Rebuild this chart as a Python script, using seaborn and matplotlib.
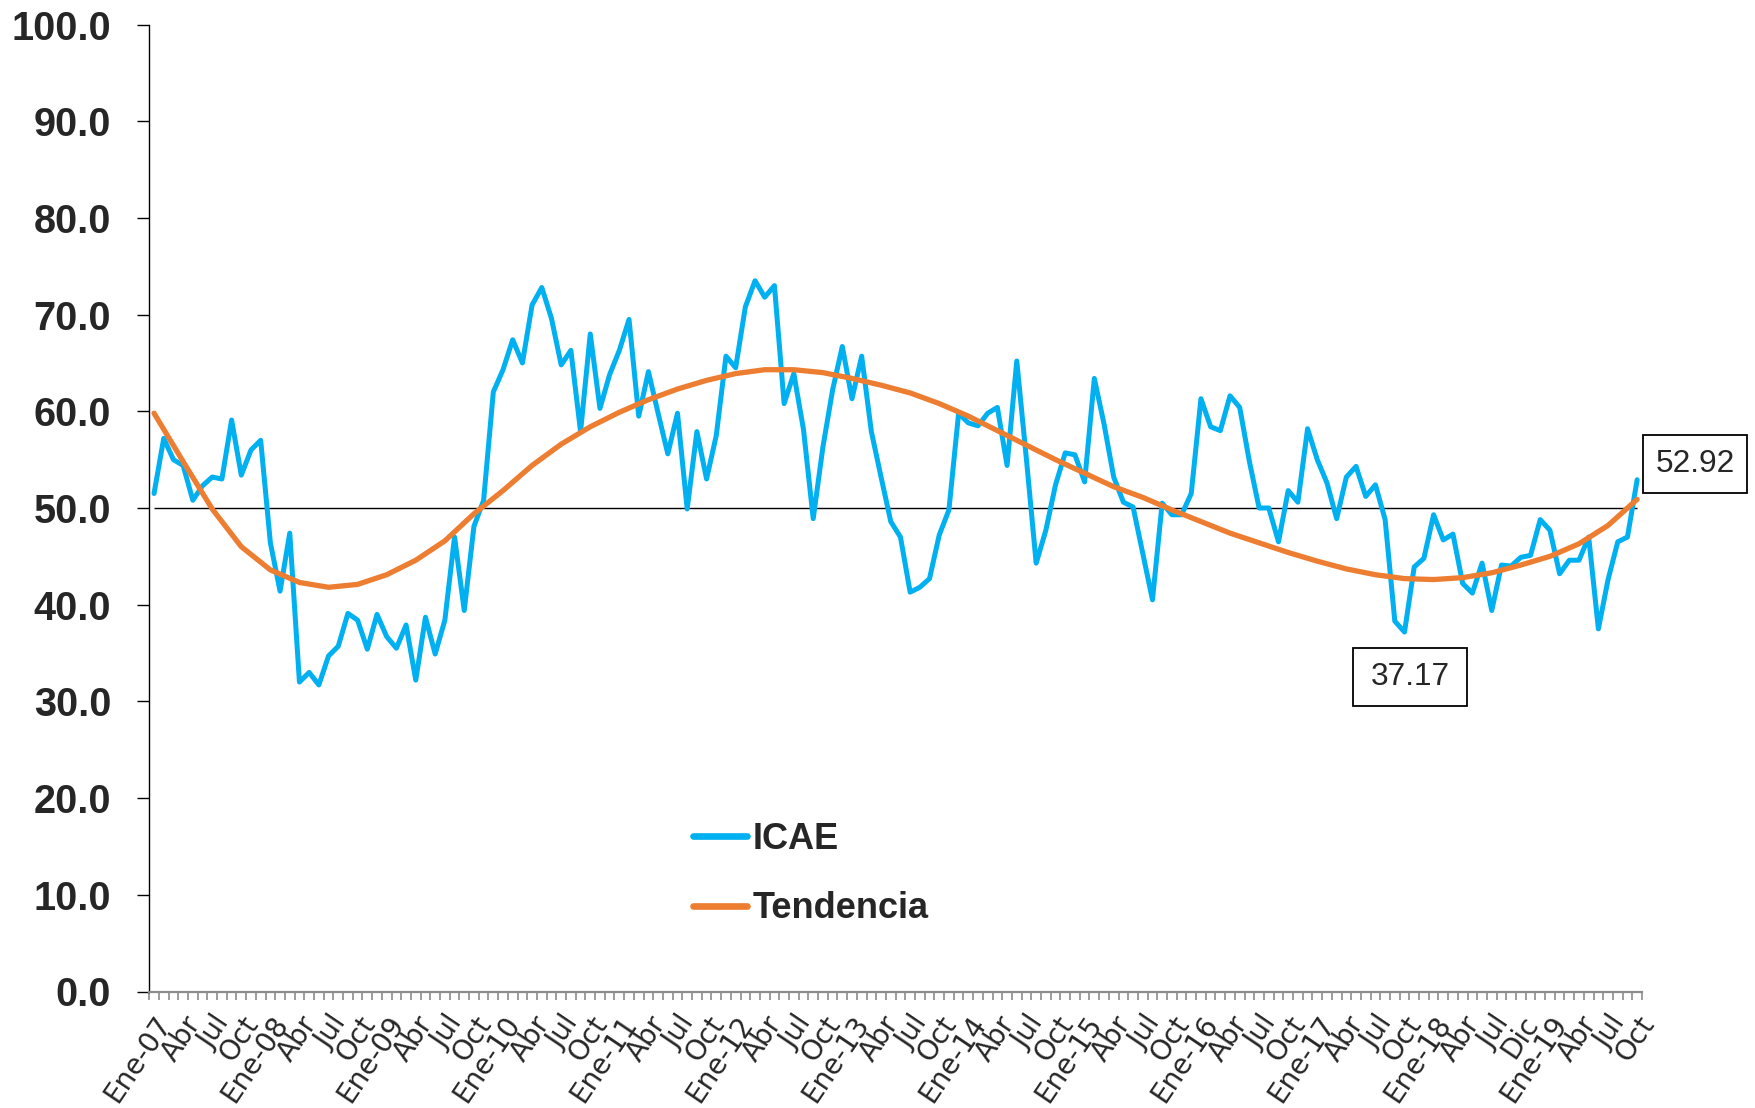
import numpy as np
import pandas as pd
import matplotlib
matplotlib.use("Agg")
import matplotlib.pyplot as plt
from matplotlib.patches import Rectangle
import seaborn as sns

# Índice de Confianza de la Actividad Económica, serie mensual Ene-07 a Oct-19
icae = [
    51.5, 57.2, 55.0, 54.4, 50.8, 52.3, 53.2, 53.0, 59.1, 53.4, 56.0, 57.0,   # 2007
    46.4, 41.4, 47.4, 32.0, 33.0, 31.7, 34.7, 35.7, 39.1, 38.4, 35.4, 39.0,   # 2008
    36.7, 35.5, 37.9, 32.2, 38.7, 34.9, 38.4, 47.0, 39.4, 48.1, 50.8, 62.0,   # 2009
    64.3, 67.4, 65.0, 71.0, 72.8, 69.6, 64.8, 66.3, 57.9, 68.0, 60.3, 63.8,   # 2010
    66.3, 69.5, 59.5, 64.1, 59.8, 55.6, 59.8, 49.9, 57.9, 53.0, 57.5, 65.7,   # 2011
    64.5, 70.8, 73.5, 71.8, 73.0, 60.8, 63.9, 58.1, 48.9, 56.3, 62.2, 66.7,   # 2012
    61.3, 65.7, 57.9, 53.2, 48.6, 47.0, 41.3, 41.8, 42.7, 47.2, 49.8, 59.8,   # 2013
    58.8, 58.5, 59.8, 60.4, 54.4, 65.2, 55.0, 44.3, 47.7, 52.4, 55.7, 55.5,   # 2014
    52.7, 63.4, 58.7, 53.2, 50.6, 50.1, 45.3, 40.5, 50.5, 49.3, 49.3, 51.5,   # 2015
    61.3, 58.4, 58.0, 61.6, 60.4, 54.8, 50.0, 50.0, 46.5, 51.8, 50.6, 58.2,   # 2016
    55.0, 52.6, 48.9, 53.2, 54.3, 51.2, 52.4, 48.8, 38.3, 37.17, 43.9, 44.8,  # 2017
    49.3, 46.7, 47.3, 42.2, 41.2, 44.3, 39.4, 44.1, 44.0, 44.9, 45.1, 48.8,   # 2018
    47.7, 43.2, 44.6, 44.6, 47.0, 37.5, 42.6, 46.5, 47.0, 52.92,              # 2019
]

# Línea de tendencia, leída cada tres meses
trend_pos = list(range(0, 154, 3))
trend_vals = [
    59.8, 54.8, 49.9, 46.0, 43.6, 42.3, 41.8, 42.1, 43.1, 44.6, 46.6, 49.4,
    51.8, 54.4, 56.6, 58.4, 59.9, 61.2, 62.3, 63.2, 63.9, 64.3, 64.3, 64.0,
    63.4, 62.7, 61.9, 60.8, 59.5, 58.0, 56.5, 55.0, 53.6, 52.2, 51.1, 49.8,
    48.6, 47.4, 46.4, 45.4, 44.5, 43.7, 43.1, 42.7, 42.6, 42.8, 43.3, 44.1,
    45.0, 46.3, 48.2, 50.9,
]

threshold = 50.0

tick_labels = [
    "Ene-07", "Abr", "Jul", "Oct", "Ene-08", "Abr", "Jul", "Oct",
    "Ene-09", "Abr", "Jul", "Oct", "Ene-10", "Abr", "Jul", "Oct",
    "Ene-11", "Abr", "Jul", "Oct", "Ene-12", "Abr", "Jul", "Oct",
    "Ene-13", "Abr", "Jul", "Oct", "Ene-14", "Abr", "Jul", "Oct",
    "Ene-15", "Abr", "Jul", "Oct", "Ene-16", "Abr", "Jul", "Oct",
    "Ene-17", "Abr", "Jul", "Oct", "Ene-18", "Abr", "Jul", "Dic",
    "Ene-19", "Abr", "Jul", "Oct",
]
y_ticks = [0, 10, 20, 30, 40, 50, 60, 70, 80, 90, 100]

BLUE = "#00B0F0"
ORANGE = "#ED7D31"
AXIS_GREY = "#8C8C8C"

sns.set_style("white")
plt.rcParams["font.family"] = ["Liberation Sans", "DejaVu Sans"]

W, H = 1756, 1108
fig = plt.figure(figsize=(W / 100, H / 100), dpi=100)
left, right, top, bottom = 149.2, 1642.0, 24.5, 991.5
ax = fig.add_axes([left / W, 1 - bottom / H, (right - left) / W, (bottom - top) / H])

df = pd.DataFrame({"mes": np.arange(len(icae)), "ICAE": icae})
df_trend = pd.DataFrame({"mes": trend_pos, "Tendencia": trend_vals})

ax.hlines(threshold, 0, len(icae) - 1, colors="black", linewidth=1.0, zorder=1)
sns.lineplot(data=df, x="mes", y="ICAE", color=BLUE, linewidth=3.6,
             label="ICAE", ax=ax, zorder=3)
sns.lineplot(data=df_trend, x="mes", y="Tendencia", color=ORANGE, linewidth=3.8,
             label="Tendencia", ax=ax, zorder=4)

# Ejes
ax.set_xlim(-0.5, len(icae) - 0.5)
ax.set_ylim(0, 100)
ax.set_xlabel("")
ax.set_ylabel("")
for side in ("top", "right"):
    ax.spines[side].set_visible(False)
ax.spines["left"].set_color("black")
ax.spines["left"].set_linewidth(1.0)
ax.spines["bottom"].set_color(AXIS_GREY)
ax.spines["bottom"].set_linewidth(1.6)

ax.set_yticks(y_ticks)
ax.set_yticklabels([f"{v:.1f}" for v in y_ticks], fontsize=28.5, fontweight="bold")
ax.tick_params(axis="y", which="major", direction="out", length=8.4, width=1.0,
               color="black", pad=19, left=True)

ax.set_xticks(np.arange(0, len(icae), 3))
ax.set_xticklabels(tick_labels, fontsize=20, rotation=56, family="DejaVu Sans",
                   ha="right", va="top", rotation_mode="anchor")
ax.set_xticks(np.arange(-0.5, len(icae), 1), minor=True)
ax.tick_params(axis="x", which="major", length=0, pad=14, bottom=True)
ax.tick_params(axis="x", which="minor", direction="out", length=6, width=1.2,
               color=AXIS_GREY, bottom=True)

# Leyenda
leg = ax.legend(loc="center left", bbox_to_anchor=(693 / W, 1 - 874 / H),
                bbox_transform=fig.transFigure, frameon=False, borderpad=0,
                borderaxespad=0, handlelength=1.5, handletextpad=0.15,
                labelspacing=0.95,
                prop={"family": "Liberation Sans", "weight": "bold", "size": 26})
for line in leg.get_lines():
    line.set_linewidth(4.8)

# Valores destacados, con su recuadro
def value_box(x, y, value, width, height):
    ax.add_patch(Rectangle((x - width / 2, y - height / 2), width, height,
                           fc="white", ec="black", lw=1.3, clip_on=False, zorder=5))
    ax.text(x, y, f"{value:.2f}", ha="center", va="center", fontsize=22.8,
            clip_on=False, zorder=6)

value_box(159.0, 54.55, icae[-1], 10.7, 6.0)
value_box(129.6, 32.5, icae[129], 11.76, 6.0)

fig.savefig("out.png", dpi=100, facecolor="white")
